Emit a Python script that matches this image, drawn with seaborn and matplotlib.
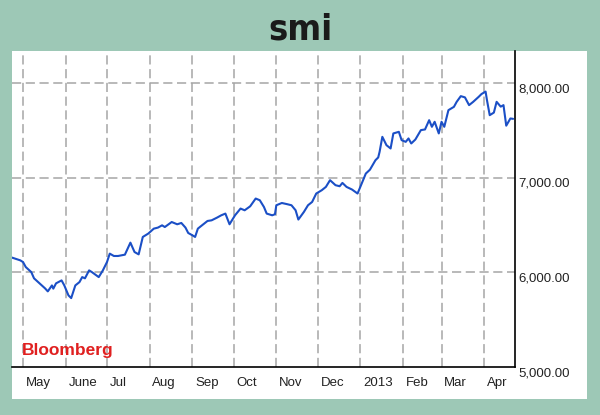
import pandas as pd
import matplotlib
matplotlib.use("Agg")
import matplotlib.pyplot as plt
import matplotlib.patches as mpatches
import matplotlib.transforms as mtransforms
import seaborn as sns

# SMI closing levels
dates = [
    "2012-04-23", "2012-04-29", "2012-05-01", "2012-05-03", "2012-05-07", "2012-05-09", "2012-05-13",
    "2012-05-17", "2012-05-19", "2012-05-22", "2012-05-23", "2012-05-25", "2012-05-29", "2012-05-31",
    "2012-06-03", "2012-06-05", "2012-06-08", "2012-06-11", "2012-06-13", "2012-06-15", "2012-06-18",
    "2012-06-20", "2012-06-25", "2012-06-28",
    "2012-07-01", "2012-07-03", "2012-07-06", "2012-07-09", "2012-07-14", "2012-07-18", "2012-07-21",
    "2012-07-24", "2012-07-27", "2012-07-31",
    "2012-08-04", "2012-08-07", "2012-08-10", "2012-08-12", "2012-08-17", "2012-08-21", "2012-08-24",
    "2012-08-27", "2012-08-29",
    "2012-09-01", "2012-09-03", "2012-09-05", "2012-09-08", "2012-09-12", "2012-09-15", "2012-09-19",
    "2012-09-22", "2012-09-25", "2012-09-28",
    "2012-10-02", "2012-10-06", "2012-10-09", "2012-10-13", "2012-10-17", "2012-10-20", "2012-10-23",
    "2012-10-25", "2012-10-29", "2012-10-31",
    "2012-11-01", "2012-11-05", "2012-11-09", "2012-11-12", "2012-11-15", "2012-11-17", "2012-11-21",
    "2012-11-24", "2012-11-27", "2012-11-30",
    "2012-12-04", "2012-12-07", "2012-12-10", "2012-12-14", "2012-12-17", "2012-12-19", "2012-12-22",
    "2012-12-26", "2012-12-30",
    "2013-01-01", "2013-01-05", "2013-01-08", "2013-01-12", "2013-01-14", "2013-01-15", "2013-01-17",
    "2013-01-20", "2013-01-23", "2013-01-25", "2013-01-29", "2013-01-31",
    "2013-02-03", "2013-02-05", "2013-02-07", "2013-02-10", "2013-02-14", "2013-02-17", "2013-02-20",
    "2013-02-22", "2013-02-24", "2013-02-27",
    "2013-03-01", "2013-03-03", "2013-03-06", "2013-03-10", "2013-03-12", "2013-03-15", "2013-03-18",
    "2013-03-21", "2013-03-24", "2013-03-28", "2013-03-30",
    "2013-04-02", "2013-04-03", "2013-04-05", "2013-04-08", "2013-04-10", "2013-04-13", "2013-04-15",
    "2013-04-17", "2013-04-20", "2013-04-22",
]
smi = [
    6156, 6127, 6109, 6056, 6003, 5937, 5884, 5831, 5799, 5862, 5828, 5884, 5915, 5862,
    5757, 5728, 5862, 5897, 5950, 5937, 6021, 6003, 5950, 6021,
    6109, 6198, 6173, 6173, 6187, 6314, 6215, 6190, 6374, 6410,
    6462, 6473, 6497, 6479, 6532, 6508, 6522, 6473, 6416,
    6392, 6374, 6462, 6497, 6543, 6550, 6579, 6603, 6621, 6508,
    6603, 6674, 6656, 6698, 6780, 6762, 6691, 6621, 6603, 6614,
    6709, 6733, 6720, 6709, 6656, 6558, 6638, 6709, 6744, 6833,
    6868, 6903, 6974, 6921, 6910, 6945, 6903, 6875, 6833,
    6903, 7044, 7085, 7185, 7214, 7273, 7432, 7344, 7309, 7468, 7485, 7397,
    7379, 7415, 7362, 7404, 7503, 7510, 7608, 7538, 7591, 7468,
    7591, 7538, 7714, 7749, 7802, 7862, 7849, 7767, 7802, 7855, 7884,
    7910, 7820, 7661, 7688, 7802, 7751, 7767, 7550, 7626, 7622,
]

month_starts = ["2012-05-01", "2012-06-01", "2012-07-01", "2012-08-01", "2012-09-01", "2012-10-01",
                "2012-11-01", "2012-12-01", "2013-01-01", "2013-02-01", "2013-03-01", "2013-04-01"]
month_labels = ["May", "June", "Jul", "Aug", "Sep", "Oct", "Nov", "Dec", "2013", "Feb", "Mar", "Apr"]
y_ticks = [5000, 6000, 7000, 8000]

BG = "#9dc8b6"
LINE = "#1b4fc6"
FONT = ["Liberation Sans", "DejaVu Sans"]

df = pd.DataFrame({"date": pd.to_datetime(dates), "smi": smi})

sns.set_theme(style="white")
plt.rcParams["font.family"] = FONT

fig = plt.figure(figsize=(6, 4.15), dpi=100, facecolor=BG)
# white panel behind the chart
fig.patches.append(mpatches.Rectangle((12 / 600, 1 - 399 / 415), 575 / 600, 348 / 415,
                                      transform=fig.transFigure, facecolor="white",
                                      edgecolor="none", zorder=-5))
ax = fig.add_axes([12 / 600, 1 - 367 / 415, 502.5 / 600, 316 / 415])
ax.set_facecolor("white")
ax.set_zorder(2)

sns.lineplot(data=df, x="date", y="smi", ax=ax, color=LINE, linewidth=1.5, zorder=3)

ax.set_xlim(pd.Timestamp("2012-04-23"), pd.Timestamp("2013-04-23"))
ax.set_ylim(5000, 8339)

grid_kw = dict(color="#a6a6a6", linestyle=(0, (6, 3)), linewidth=1.1, zorder=1)
for m in month_starts:
    ax.axvline(pd.Timestamp(m), **grid_kw)
for v in y_ticks[1:]:
    ax.axhline(v, **grid_kw)

ax.set_xticks(pd.to_datetime(month_starts))
ax.set_xticklabels(month_labels)
ax.set_yticks(y_ticks)
ax.set_yticklabels([f"{v:,.2f}" for v in y_ticks])
ax.yaxis.tick_right()
ax.tick_params(axis="both", length=0, labelsize=9.5, colors="#222222")
ax.tick_params(axis="x", pad=7)
ax.tick_params(axis="y", pad=3)
shift = mtransforms.ScaledTranslation(2 / 72, 0, fig.dpi_scale_trans)
for lbl in ax.get_xticklabels():
    lbl.set_ha("left")
    lbl.set_transform(lbl.get_transform() + shift)
for lbl in ax.get_yticklabels():
    lbl.set_va("top")
ax.set_xlabel("")
ax.set_ylabel("")

for side in ["left", "top"]:
    ax.spines[side].set_visible(False)
for side in ["right", "bottom"]:
    ax.spines[side].set_color("black")
    ax.spines[side].set_linewidth(1.2)

fig.text(0.5, 1 - 30 / 415, "smi", ha="center", va="center", fontsize=26,
         fontweight="heavy", fontstretch="condensed", color="#1a1a1a",
         family=["DejaVu Sans", "Liberation Sans"])
fig.text(22 / 600, 1 - 355 / 415, "Bloomberg", ha="left", va="baseline", fontsize=12.5,
         fontweight="bold", color="#e02020", family=FONT)

fig.savefig("out.png", dpi=100, facecolor=BG)
